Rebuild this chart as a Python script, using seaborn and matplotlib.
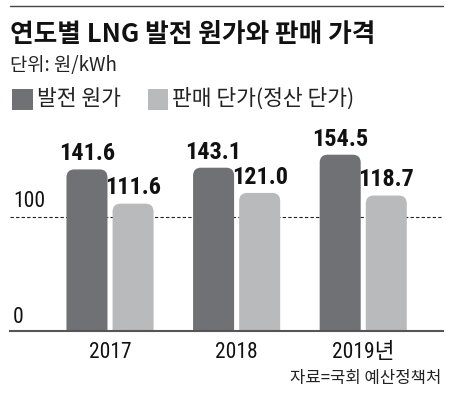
import pandas as pd
import matplotlib
matplotlib.use("Agg")
import matplotlib.pyplot as plt
from matplotlib.patches import FancyBboxPatch, Rectangle
from matplotlib.lines import Line2D
import seaborn as sns

years = ['2017', '2018', '2019년']
gen_cost = [141.6, 143.1, 154.5]
sale_price = [111.6, 121.0, 118.7]
series = ['발전 원가', '판매 단가(정산 단가)']
colors = ['#707175', '#b9babc']

df = pd.DataFrame({
    'year': years * 2,
    'value': gen_cost + sale_price,
    'series': [series[0]] * 3 + [series[1]] * 3,
})

sns.set_theme(style='white')
kr = ['Noto Sans CJK KR', 'DejaVu Sans']
num = ['Roboto Condensed', 'Noto Sans CJK KR', 'DejaVu Sans']
plt.rcParams['font.family'] = kr

fig = plt.figure(figsize=(4.5, 3.98), dpi=100)
ax = fig.add_axes([10 / 450, 67 / 398, 433 / 450, 194 / 398])

sns.barplot(data=df, x='year', y='value', hue='series', palette=colors,
            width=0.728, gap=0.11, saturation=1, legend=False, ax=ax)

ax.set_xlim(-0.79, 2.63)
ax.set_ylim(0, 170)

for cont in ax.containers:
    ax.bar_label(cont, fmt='%.1f', padding=3, fontsize=17.5, fontweight='bold',
                 family=num, color='#111111')
    for p in cont.patches:
        x, w, h = p.get_x(), p.get_width(), p.get_height()
        rb = FancyBboxPatch((x, -20), w, h + 20,
                            boxstyle='round,pad=0,rounding_size=0.063',
                            mutation_aspect=111, facecolor=p.get_facecolor(),
                            edgecolor='none', clip_on=True)
        ax.add_patch(rb)
        p.set_visible(False)

ax.axhline(100, color='#222222', lw=0.8, ls=(0, (3, 2)), zorder=0)
for s in ['top', 'right', 'left']:
    ax.spines[s].set_visible(False)
ax.spines['bottom'].set_color('#555555')
ax.spines['bottom'].set_linewidth(1.5)
ax.set_yticks([])
ax.set_xlabel('')
ax.set_ylabel('')
ax.tick_params(axis='x', length=0, pad=8)
for lab in ax.get_xticklabels():
    lab.set_fontfamily(num)
    lab.set_fontsize(15.5)
    lab.set_color('#111111')

ax.text(0.007, 104, '100', transform=ax.get_yaxis_transform(), fontsize=15.5,
        family=num, color='#111111', va='bottom', ha='left')
ax.text(0.007, 3, '0', transform=ax.get_yaxis_transform(), fontsize=15.5,
        family=num, color='#111111', va='bottom', ha='left')

# header
fig.add_artist(Line2D([10 / 450, 443 / 450], [1 - 6 / 398, 1 - 6 / 398],
                      color='#444444', lw=1))
fig.text(10 / 450, 1 - 34 / 398, '연도별 LNG 발전 원가와 판매 가격', fontsize=18.5,
         fontweight='bold', va='center', ha='left', color='#111111')
fig.text(10 / 450, 1 - 66 / 398, '단위: 원/kWh', fontsize=13.5, va='center',
         ha='left', color='#222222')

fig.add_artist(Rectangle((12 / 450, 1 - 110 / 398), 21 / 450, 21 / 398,
                         facecolor=colors[0], edgecolor='none'))
fig.text(37 / 450, 1 - 99 / 398, series[0], fontsize=15.5, va='center',
         ha='left', color='#222222')
fig.add_artist(Rectangle((148 / 450, 1 - 110 / 398), 20 / 450, 21 / 398,
                         facecolor=colors[1], edgecolor='none'))
fig.text(172 / 450, 1 - 99 / 398, series[1], fontsize=15.5, va='center',
         ha='left', color='#222222')

fig.text(441 / 450, 1 - 378 / 398, '자료=국회 예산정책처', fontsize=12,
         va='center', ha='right', color='#222222')

fig.savefig('out.png', dpi=100, facecolor='white')
